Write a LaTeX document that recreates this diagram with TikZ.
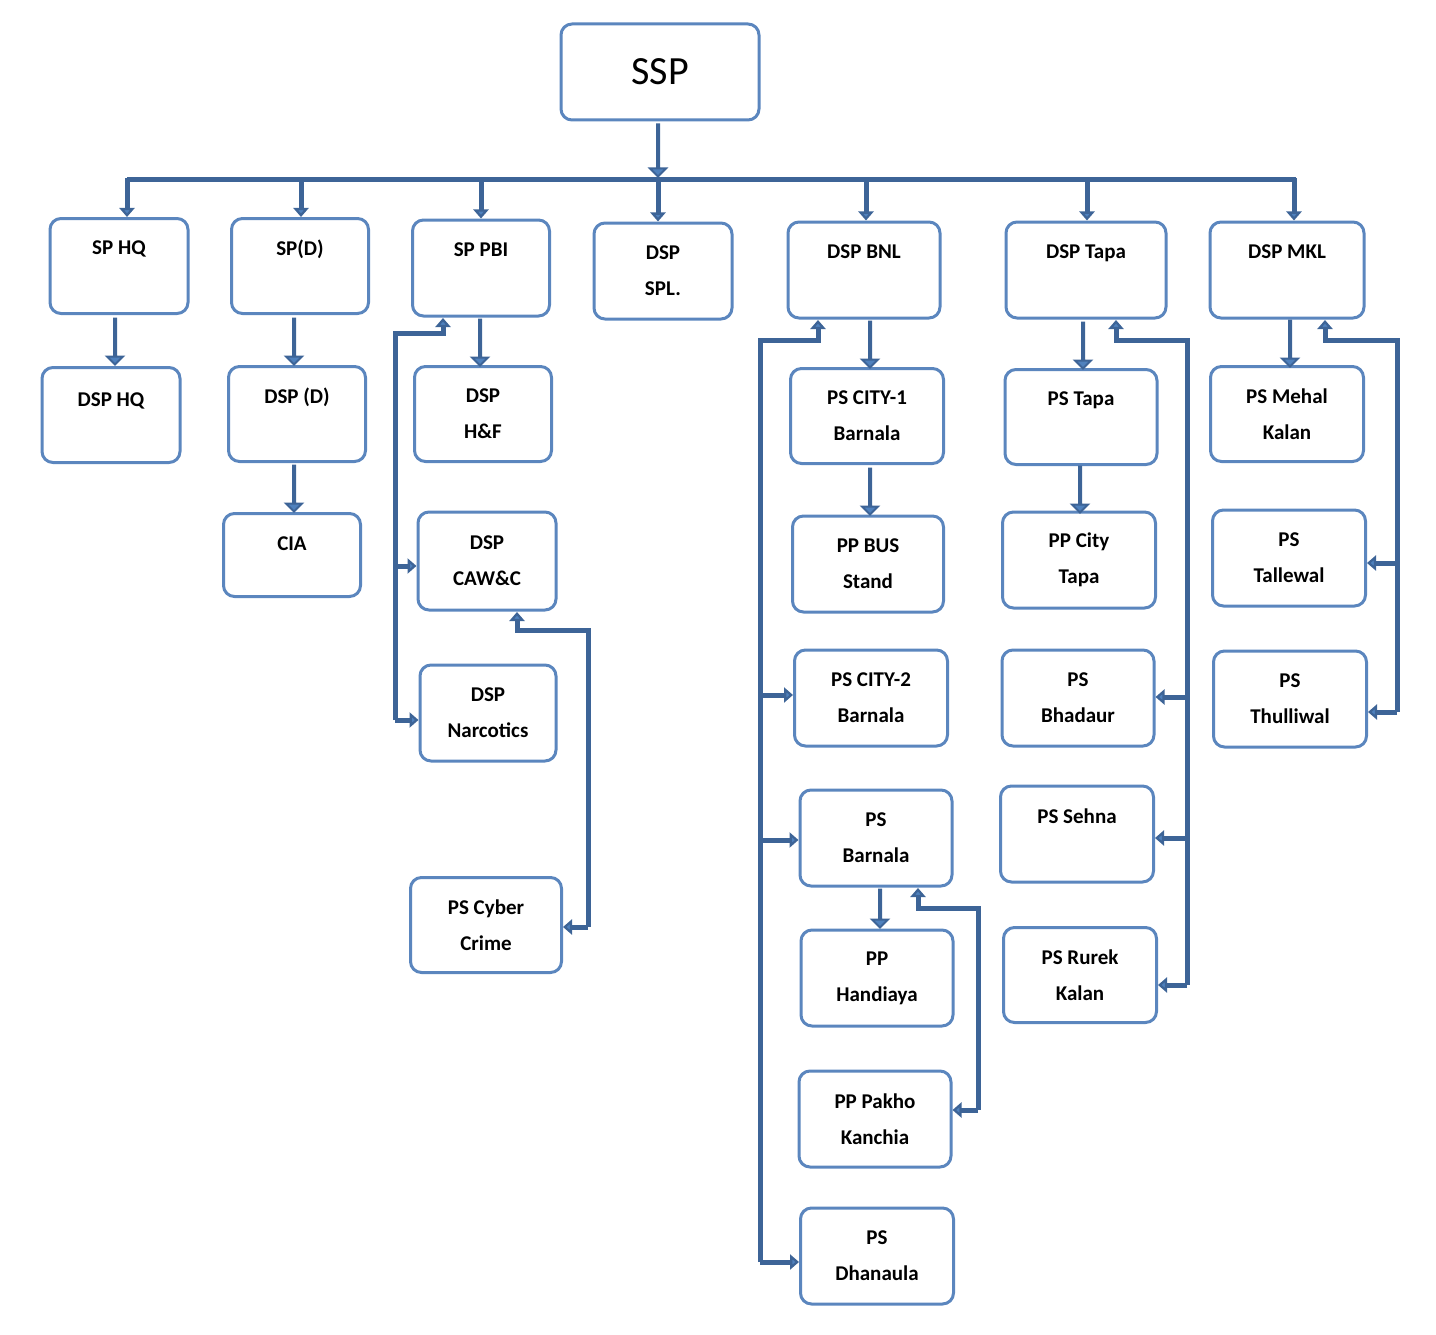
\documentclass[tikz,border=0pt]{standalone}
\usepackage{fontspec}
\setmainfont{Carlito}
\usetikzlibrary{arrows.meta, shapes.arrows}
\definecolor{boxline}{HTML}{5B86BE}
\definecolor{barline}{HTML}{3D6497}
\definecolor{arrfill}{HTML}{4F81BD}
\tikzset{
    box/.style={
        draw=boxline, 
        line width=3pt, 
        rounded corners=11pt, 
        fill=white, 
        align=center, 
        font=\fontsize{21}{36}\selectfont\bfseries, 
        inner sep=0pt
    },
    bar/.style={
        draw=barline, 
        line width=5pt, 
        -{Triangle[length=9pt,width=15pt,fill=arrfill]}
    },
    plain bar/.style={draw=barline, line width=5pt},
    blockarr/.style={
        single arrow, 
        draw=barline, 
        fill=arrfill, 
        line width=2pt, 
        minimum width=15pt, 
        single arrow head extend=7pt, 
        inner sep=0pt, 
        shape border rotate=270
    }
}
\begin{document}
\begin{tikzpicture}[x=1pt, y=-1pt]
\useasboundingbox (0,0) rectangle (1436,1335);
% top
\node[box, minimum width=198pt, minimum height=96pt, font=\fontsize{40}{40}\selectfont] (ssp) at (660,72) {SSP};
% second row
\node[box, minimum width=138pt, minimum height=95pt] (sphq) at (119,266) {SP HQ\\~};
\node[box, minimum width=137pt, minimum height=95pt] (spd) at (300,266) {SP(D)\\~};
\node[box, minimum width=137pt, minimum height=96pt] (sppbi) at (481,268) {SP PBI\\~};
\node[box, minimum width=138pt, minimum height=96pt] (dspspl) at (663,271) {DSP\\SPL.};
\node[box, minimum width=152pt, minimum height=96pt] (dspbnl) at (864,270) {DSP BNL\\~};
\node[box, minimum width=160pt, minimum height=96pt] (dsptapa) at (1086,270) {DSP Tapa\\~};
\node[box, minimum width=154pt, minimum height=96pt] (dspmkl) at (1287,270) {DSP MKL\\~};
% lower boxes
\node[box, minimum width=138pt, minimum height=95pt] (dsphq) at (111,415) {DSP HQ\\[-6pt]~};
\node[box, minimum width=137pt, minimum height=95pt] (dspd) at (297,414) {DSP (D)\\~};
\node[box, minimum width=137pt, minimum height=83pt] (cia) at (292,555) {CIA\\[-14pt]~};
\node[box, minimum width=137pt, minimum height=95pt] (dsphf) at (483,414) {DSP\\H\&F};
\node[box, minimum width=138pt, minimum height=98pt] (dspcaw) at (487,561) {DSP\\CAW\&C};
\node[box, minimum width=136pt, minimum height=96pt] (dspnarc) at (488,713) {DSP\\Narcotics};
\node[box, minimum width=151pt, minimum height=95pt] (pscyber) at (486,925) {PS Cyber\\Crime};
\node[box, minimum width=153pt, minimum height=95pt] (pscity1) at (867,416) {PS CITY-1\\Barnala};
\node[box, minimum width=151pt, minimum height=96pt] (ppbus) at (868,564) {PP BUS\\Stand};
\node[box, minimum width=153pt, minimum height=96pt] (pscity2) at (871,698) {PS CITY-2\\Barnala};
\node[box, minimum width=152pt, minimum height=96pt] (psbarnala) at (876,838) {PS\\Barnala};
\node[box, minimum width=152pt, minimum height=96pt] (pphandiaya) at (877,978) {PP\\Handiaya};
\node[box, minimum width=152pt, minimum height=96pt] (pppakho) at (875,1119) {PP Pakho\\Kanchia};
\node[box, minimum width=153pt, minimum height=96pt] (psdhanaula) at (877,1256) {PS\\Dhanaula};
\node[box, minimum width=152pt, minimum height=95pt] (pstapa) at (1081,417) {PS Tapa\\~};
\node[box, minimum width=153pt, minimum height=96pt] (ppcitytapa) at (1079,560) {PP City\\Tapa};
\node[box, minimum width=152pt, minimum height=96pt] (psbhadaur) at (1078,698) {PS\\Bhadaur};
\node[box, minimum width=153pt, minimum height=96pt] (pssehna) at (1077,834) {PS Sehna\\~};
\node[box, minimum width=153pt, minimum height=95pt] (psrurek) at (1080,975) {PS Rurek\\Kalan};
\node[box, minimum width=153pt, minimum height=95pt] (psmehal) at (1287,414) {PS Mehal\\Kalan};
\node[box, minimum width=153pt, minimum height=96pt] (pstallewal) at (1289,558) {PS\\Tallewal};
\node[box, minimum width=153pt, minimum height=96pt] (psthulliwal) at (1290,699) {PS\\Thulliwal};
% block arrows
\node[blockarr, minimum height=52pt] (a0) at (658,150) {};
\node[blockarr, minimum height=46pt] (a1) at (115,341) {};
\node[blockarr, minimum height=46pt] (a2) at (294,341) {};
\node[blockarr, minimum height=46pt] (a3) at (294,488) {};
\node[blockarr, minimum height=46pt] (a4) at (480,342) {};
\node[blockarr, minimum height=46pt] (a5) at (870,344) {};
\node[blockarr, minimum height=46pt] (a6) at (870,491) {};
\node[blockarr, minimum height=46pt] (a7) at (1083,345) {};
\node[blockarr, minimum height=46pt] (a8) at (1080,489) {};
\node[blockarr, minimum height=46pt] (a9) at (1290,343) {};
\node[blockarr, minimum height=38pt] (a10) at (880,908) {};
% bus
\coordinate (busl) at (127,180);
\coordinate (busr) at (1296,180);
\draw[plain bar] (busl) -- (busr);
\foreach \bx/\target in {127/sphq, 301/spd, 481/sppbi, 658/dspspl, 866/dspbnl, 1087/dsptapa, 1294/dspmkl}
    \draw[bar] (\bx,178) -- (\bx,180 |- \target.north);
% SP PBI branch
\coordinate (pbi1) at (395,333);
\coordinate (pbi2) at (395,720);
\draw[bar] (pbi2) -- (pbi1) -- (443,333) -- (443,318);
\draw[bar] (395,566) -- (dspcaw.west |- 0,566);
\draw[bar] (pbi2) -- (dspnarc.west |- pbi2);
% CAW&C branch
\coordinate (caw1) at (588,630);
\draw[bar] (588,927) -- (caw1) -- (517,630) -- (517,612);
\draw[bar] (588,927) -- (pscyber.east |- 0,927);
% BNL branch
\coordinate (bnl1) at (760,340);
\coordinate (bnl2) at (760,1262);
\draw[bar] (bnl2) -- (bnl1) -- (818,340) -- (818,320);
\draw[bar] (760,695) -- (pscity2.west |- 0,695);
\draw[bar] (760,840) -- (psbarnala.west |- 0,840);
\draw[bar] (bnl2) -- (psdhanaula.west |- bnl2);
% PS Barnala branch
\coordinate (bar1) at (978,908);
\draw[bar] (978,1110) -- (bar1) -- (918,908) -- (918,888);
\draw[bar] (978,1110) -- (pppakho.east |- 0,1110);
% Tapa branch
\coordinate (tapa1) at (1187,340);
\coordinate (tapa2) at (1187,985);
\draw[bar] (tapa2) -- (tapa1) -- (1116,340) -- (1116,320);
\draw[bar] (1187,697) -- (psbhadaur.east |- 0,697);
\draw[bar] (1187,838) -- (pssehna.east |- 0,838);
\draw[bar] (tapa2) -- (psrurek.east |- tapa2);
% MKL branch
\coordinate (mkl1) at (1397,340);
\coordinate (mkl2) at (1397,712);
\draw[bar] (mkl2) -- (mkl1) -- (1325,340) -- (1325,320);
\draw[bar] (1397,563) -- (pstallewal.east |- 0,563);
\draw[bar] (mkl2) -- (psthulliwal.east |- mkl2);
\end{tikzpicture}
\end{document}
